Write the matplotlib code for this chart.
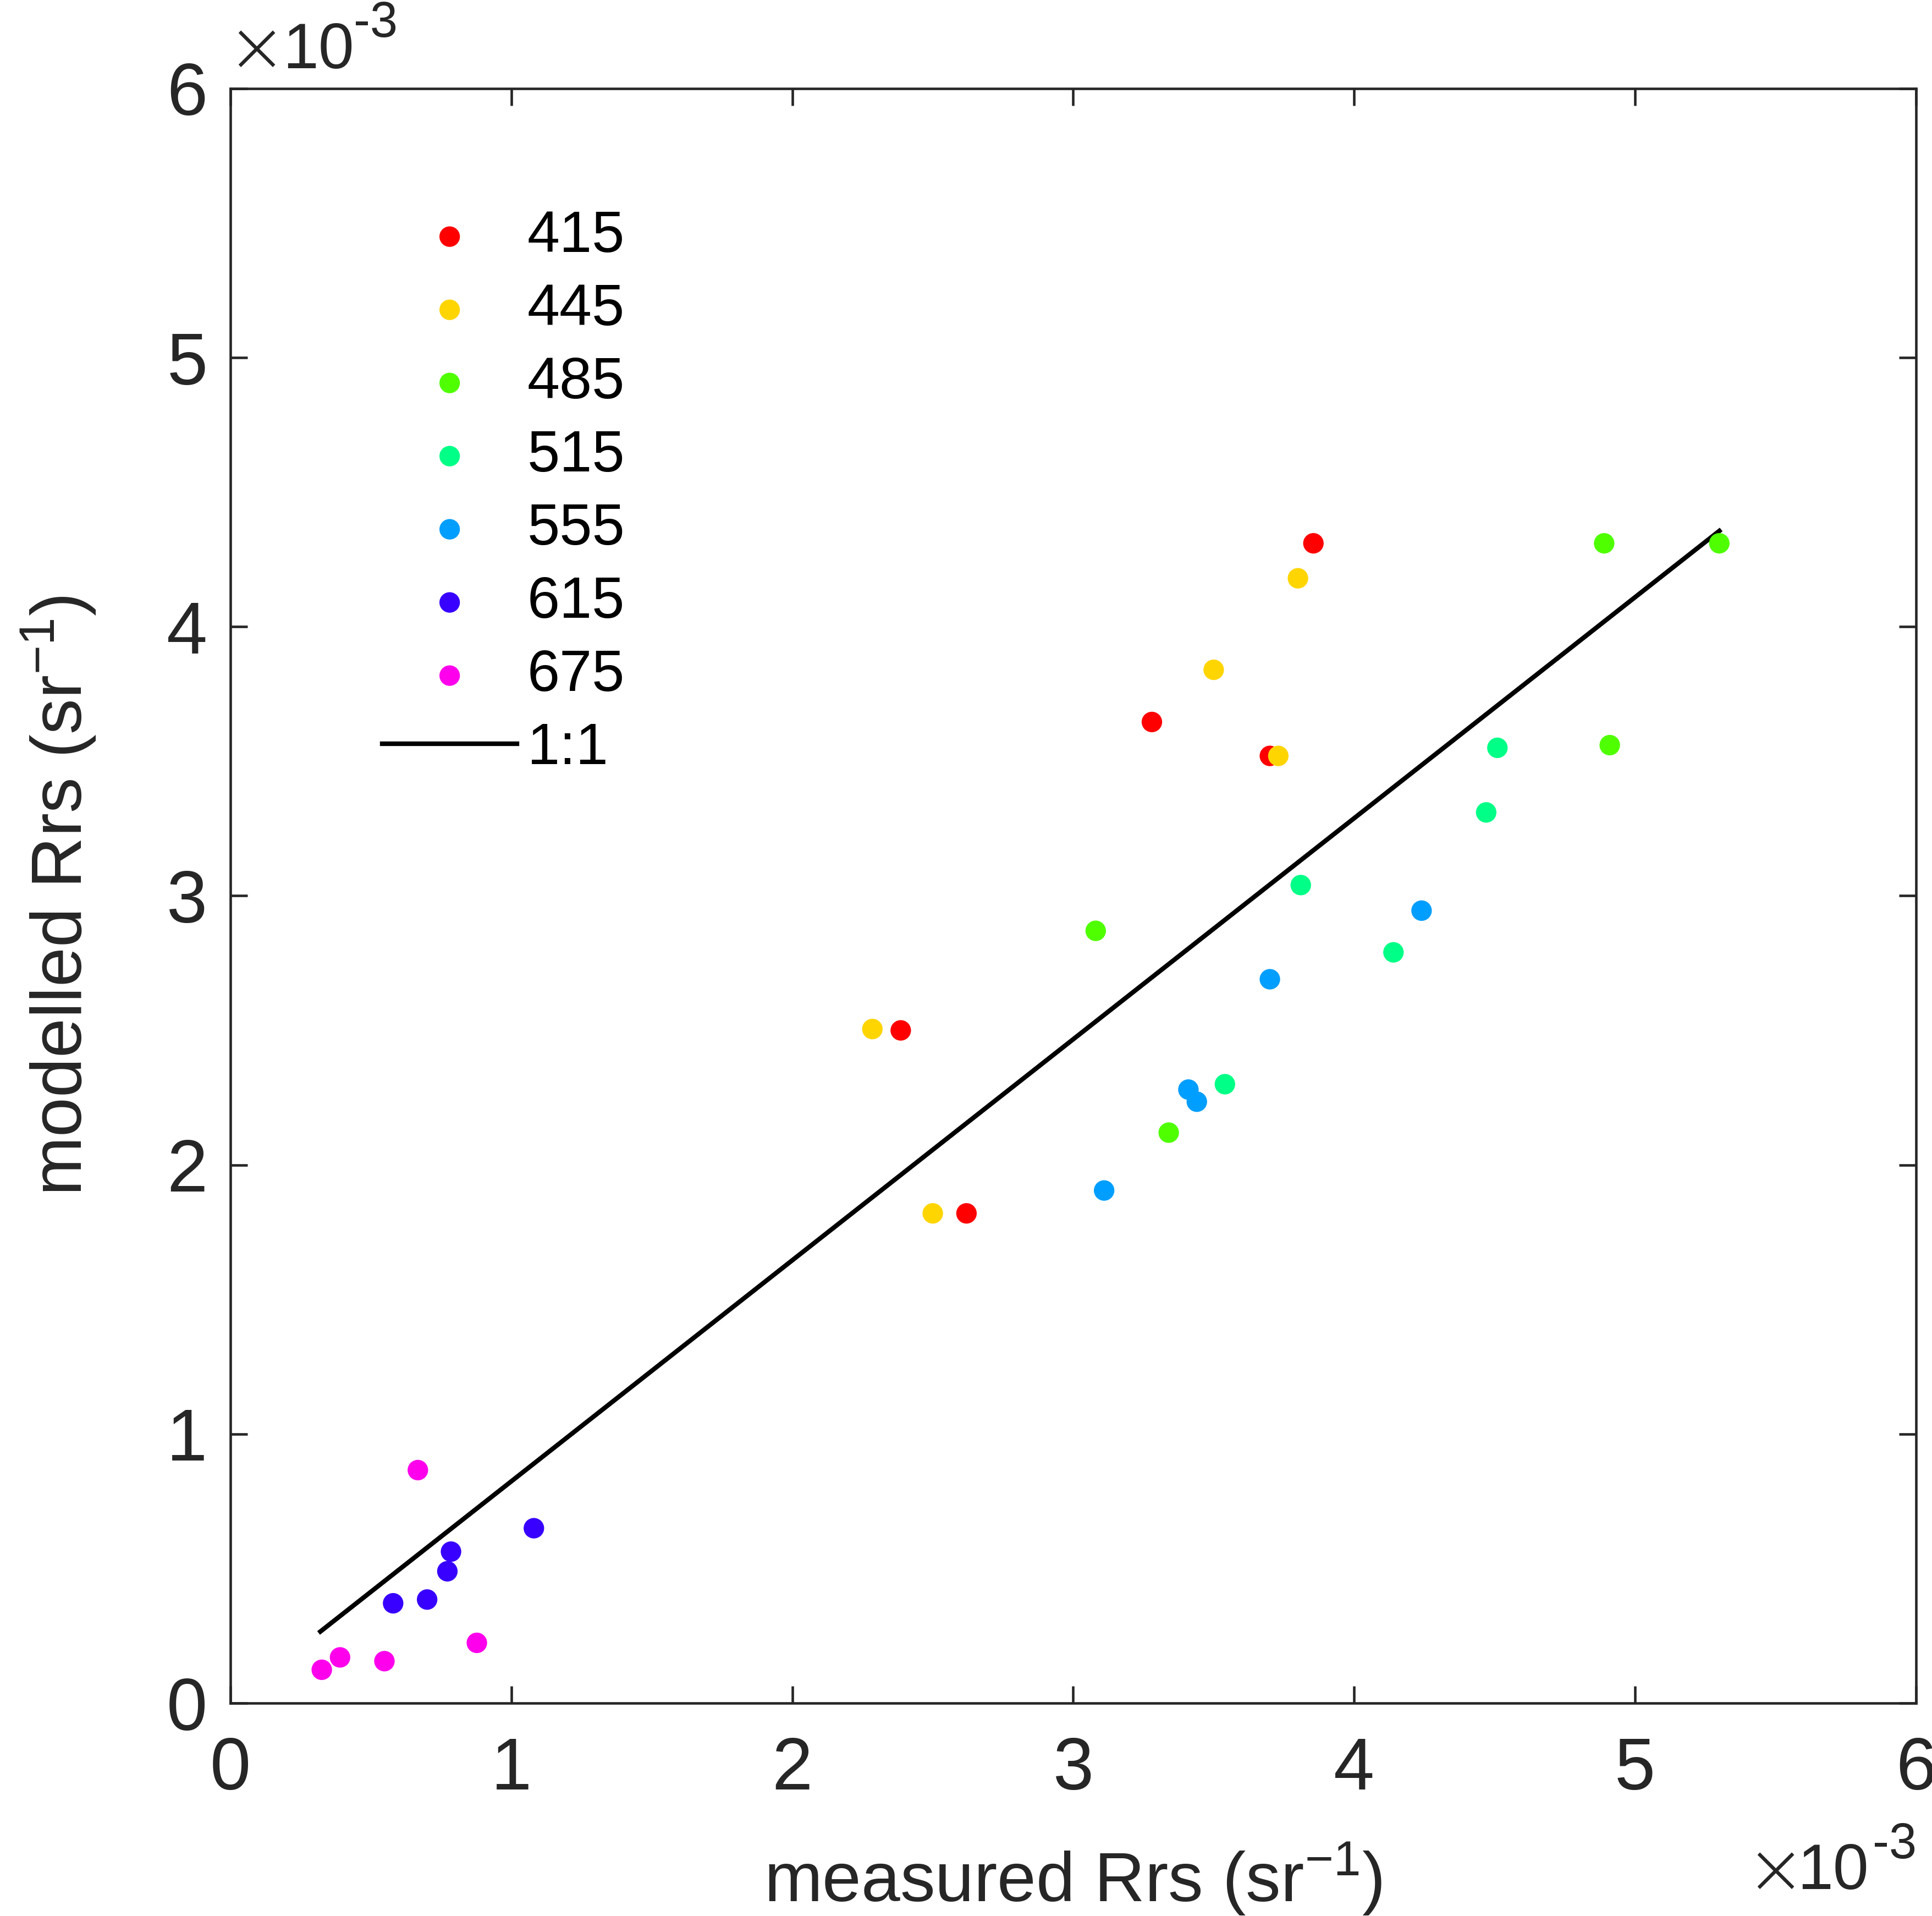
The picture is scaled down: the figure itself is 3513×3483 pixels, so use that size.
import numpy as np
import matplotlib
matplotlib.use('Agg')
import matplotlib.pyplot as plt

# ---------------- data (Rrs in units of 1e-3 sr^-1) ----------------
bands = ['415', '445', '485', '515', '555', '615', '675']

meas_415 = [3.855, 3.28, 3.70, 2.386, 2.62]
mod_415 = [4.31, 3.646, 3.52, 2.50, 1.82]
meas_445 = [3.80, 3.50, 3.73, 2.285, 2.50]
mod_445 = [4.18, 3.84, 3.52, 2.505, 1.82]
meas_485 = [4.89, 5.30, 4.91, 3.08, 3.34]
mod_485 = [4.31, 4.31, 3.56, 2.87, 2.12]
meas_515 = [4.51, 4.47, 3.81, 4.14, 3.54]
mod_515 = [3.55, 3.31, 3.04, 2.79, 2.30]
meas_555 = [4.24, 3.70, 3.41, 3.44, 3.11]
mod_555 = [2.945, 2.69, 2.28, 2.235, 1.905]
meas_615 = [1.08, 0.785, 0.772, 0.70, 0.579]
mod_615 = [0.65, 0.563, 0.49, 0.385, 0.371]
meas_675 = [0.667, 0.877, 0.39, 0.548, 0.325]
mod_675 = [0.866, 0.224, 0.17, 0.156, 0.124]

line_x = [0.32, 5.30]
line_y = [0.266, 4.356]

measured = [meas_415, meas_445, meas_485, meas_515, meas_555, meas_615, meas_675]
modelled = [mod_415, mod_445, mod_485, mod_515, mod_555, mod_615, mod_675]

# ---------------- style ----------------
plt.rcParams['font.family'] = ['Liberation Sans', 'DejaVu Sans']
plt.rcParams['mathtext.fontset'] = 'custom'
plt.rcParams['mathtext.rm'] = 'Liberation Sans'
plt.rcParams['mathtext.it'] = 'Liberation Sans:italic'
plt.rcParams['mathtext.bf'] = 'Liberation Sans:bold'

grey = '#262626'
colors = plt.cm.hsv(np.arange(len(bands)) / len(bands))

fig = plt.figure(figsize=(3513 / 300, 3483 / 300), dpi=300)
ax = fig.add_axes([0.1193, 0.1111, 0.8724, 0.8427])

for i, b in enumerate(bands):
    ax.scatter(measured[i], modelled[i], s=80, color=colors[i],
               edgecolors='none', label=b, zorder=3)
ax.plot(line_x, line_y, color='black', lw=2.0, label='1:1', zorder=2)

ax.set_xlim(0, 6)
ax.set_ylim(0, 6)
ax.set_xticks(range(7))
ax.set_yticks(range(7))

for sp in ax.spines.values():
    sp.set_color(grey)
    sp.set_linewidth(1.1)
ax.tick_params(direction='in', length=7.5, width=1.1, color=grey,
               labelcolor=grey, labelsize=32, top=True, right=True)
ax.tick_params(axis='x', pad=14.5)
ax.tick_params(axis='y', pad=10)

ax.set_xlabel('measured Rrs (sr$^{-1}$)', fontsize=30.5, color=grey, labelpad=15.5)
ax.set_ylabel('modelled Rrs (sr$^{-1}$)', fontsize=31, color=grey, labelpad=30)

# exponent labels drawn MATLAB style: big thin "x", "10" and a raised "-3"
def exponent_label(x_times, y_times, x_ten, y_ten, ha_ten, x_sup, y_sup):
    ax.text(x_times, y_times, '\u00d7', transform=ax.transAxes, fontsize=31,
            color=grey, ha='center', va='center', family='DejaVu Sans',
            fontweight='light')
    ax.text(x_ten, y_ten, '10', transform=ax.transAxes, fontsize=28,
            color=grey, ha=ha_ten, va='baseline')
    ax.text(x_sup, y_sup, '-3', transform=ax.transAxes, fontsize=21.6,
            color=grey, ha='left', va='baseline')

exponent_label(0.0154, 1.0229, 0.031, 1.0126, 'left', 0.0731, 1.032)
exponent_label(0.9167, -0.1053, 0.972, -0.1153, 'right', 0.9744, -0.0962)

leg = ax.legend(loc='upper left', bbox_to_anchor=(0.09, 0.925), frameon=False,
                fontsize=25.5, handlelength=2.31, handletextpad=0.17,
                labelspacing=0.32, borderpad=0, borderaxespad=0,
                markerscale=1.0)

fig.savefig('out.png', dpi=300)
